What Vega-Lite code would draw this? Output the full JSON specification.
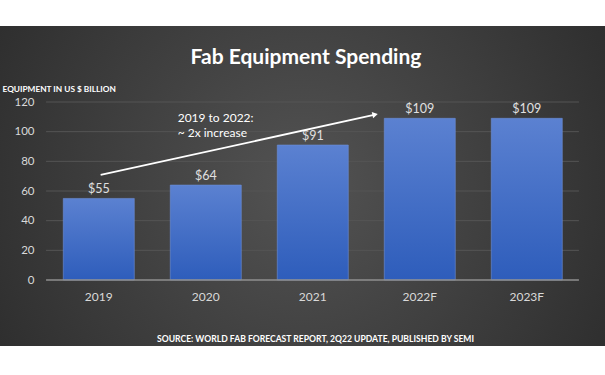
{
  "$schema": "https://vega.github.io/schema/vega-lite/v6.json",
  "width": 605,
  "height": 320,
  "autosize": {"type": "none"},
  "padding": {"top": 26, "bottom": 29, "left": 0, "right": 0},
  "background": "white",
  "view": {
    "stroke": null,
    "fill": {
      "gradient": "radial",
      "x1": 0.5, "y1": 0.5, "r1": 0,
      "x2": 0.5, "y2": 0.5, "r2": 0.75,
      "stops": [
        {"offset": 0, "color": "#535353"},
        {"offset": 1, "color": "#232323"}
      ]
    }
  },
  "title": {
    "text": "Fab Equipment Spending",
    "font": "Lato",
    "fontSize": 21,
    "fontWeight": "bold",
    "color": "white",
    "anchor": "middle",
    "dx": 3.5,
    "offset": -42
  },
  "datasets": {
    "bars": [
      {"year": "2019", "value": 55},
      {"year": "2020", "value": 64},
      {"year": "2021", "value": 91},
      {"year": "2022F", "value": 109},
      {"year": "2023F", "value": 109}
    ],
    "grid": [{"v": 20}, {"v": 40}, {"v": 60}, {"v": 80}, {"v": 100}, {"v": 120}],
    "arrow": [{"i1": 0.02, "v1": 70.8, "i2": 2.585, "v2": 111.5}],
    "note": [
      {"i": 0.74, "v": 109.0, "t": "2019 to 2022:"},
      {"i": 0.74, "v": 99.3, "t": "~ 2x increase"}
    ]
  },
  "resolve": {"scale": {"x": "independent"}},
  "layer": [
    {
      "data": {"name": "grid"},
      "mark": {"type": "rule", "color": "#555555", "strokeWidth": 1},
      "encoding": {
        "x": {"datum": -0.49, "type": "quantitative", "scale": {"domain": [-0.9206, 4.7336], "nice": false, "zero": false}, "axis": null},
        "x2": {"datum": 4.49},
        "y": {
          "field": "v", "type": "quantitative",
          "scale": {"domain": [-44.49, 171.24], "nice": false, "zero": false},
          "axis": {
            "values": [0, 20, 40, 60, 80, 100, 120],
            "offset": -46,
            "domain": false,
            "ticks": false,
            "grid": false,
            "labelPadding": 12,
            "labelFont": "Lato",
            "labelFontSize": 11.5,
            "labelColor": "#d9d9d9",
            "title": "EQUIPMENT IN US $ BILLION",
            "titleAngle": 0,
            "titleX": -44,
            "titleY": 63.7,
            "titleAlign": "left",
            "titleBaseline": "middle",
            "titleFont": "Lato",
            "titleFontSize": 8.3,
            "titleFontWeight": "bold",
            "titleColor": "white"
          }
        }
      }
    },
    {
      "data": {"name": "bars"},
      "layer": [
        {
          "mark": {
            "type": "bar",
            "stroke": "#6c8fd6",
            "strokeWidth": 0.6,
            "fill": {
              "gradient": "linear",
              "x1": 0, "y1": 0, "x2": 0, "y2": 1,
              "stops": [
                {"offset": 0, "color": "#5b81d1"},
                {"offset": 1, "color": "#2e5dbb"}
              ]
            }
          },
          "encoding": {
            "x": {
              "field": "year", "type": "nominal", "sort": null,
              "scale": {"paddingInner": 0.3364, "paddingOuter": 0.4953, "align": 0.597},
              "axis": {
                "orient": "bottom",
                "offset": -66,
                "domain": false,
                "ticks": false,
                "labelAngle": 0,
                "labelPadding": 11,
                "labelFont": "Lato",
                "labelFontSize": 12,
                "labelColor": "#d9d9d9",
                "title": "SOURCE: WORLD FAB FORECAST REPORT, 2Q22 UPDATE, PUBLISHED BY SEMI",
                "titleX": 315,
                "titleY": 58,
                "titleAlign": "center",
                "titleBaseline": "middle",
                "titleFont": "Lato",
                "titleFontSize": 8.6,
                "titleFontWeight": "bold",
                "titleColor": "white"
              }
            },
            "y": {"field": "value", "type": "quantitative"}
          }
        },
        {
          "mark": {"type": "text", "font": "Lato", "fontSize": 12.5, "color": "#e0e0e0", "dy": -5, "baseline": "alphabetic"},
          "encoding": {
            "x": {"field": "year", "type": "nominal", "sort": null},
            "y": {"field": "value", "type": "quantitative"},
            "text": {"field": "value", "type": "quantitative", "format": "$.0f"}
          }
        }
      ]
    },
    {
      "data": {"name": "grid"},
      "transform": [{"filter": "datum.v == 20"}],
      "mark": {"type": "rule", "color": "#8f8f8f", "strokeWidth": 1.5},
      "encoding": {
        "x": {"datum": -0.49, "type": "quantitative", "scale": {"domain": [-0.9206, 4.7336], "nice": false, "zero": false}, "axis": null},
        "x2": {"datum": 4.49},
        "y": {"datum": 0, "type": "quantitative"}
      }
    },
    {
      "data": {"name": "arrow"},
      "layer": [
        {
          "mark": {"type": "rule", "color": "white", "strokeWidth": 1.8},
          "encoding": {
            "x": {"field": "i1", "type": "quantitative", "scale": {"domain": [-0.9206, 4.7336], "nice": false, "zero": false}, "axis": null},
            "x2": {"field": "i2"},
            "y": {"field": "v1", "type": "quantitative"},
            "y2": {"field": "v2"}
          }
        },
        {
          "mark": {"type": "point", "shape": "triangle-up", "filled": true, "color": "white", "opacity": 1, "size": 40, "angle": 77.6},
          "encoding": {
            "x": {"field": "i2", "type": "quantitative", "scale": {"domain": [-0.9206, 4.7336], "nice": false, "zero": false}, "axis": null},
            "y": {"field": "v2", "type": "quantitative"}
          }
        }
      ]
    },
    {
      "data": {"name": "note"},
      "mark": {"type": "text", "font": "Lato", "fontSize": 12, "color": "white", "align": "left", "baseline": "middle"},
      "encoding": {
        "x": {"field": "i", "type": "quantitative", "scale": {"domain": [-0.9206, 4.7336], "nice": false, "zero": false}, "axis": null},
        "y": {"field": "v", "type": "quantitative"},
        "text": {"field": "t"}
      }
    }
  ]
}
